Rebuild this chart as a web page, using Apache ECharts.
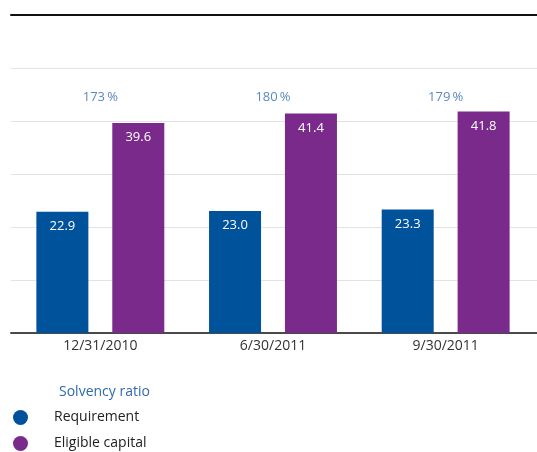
<!DOCTYPE html>
<html>
<head>
<meta charset="utf-8">
<script src="https://cdn.jsdelivr.net/npm/echarts@6/dist/echarts.min.js"></script>
<style>html,body{margin:0;padding:0;background:#fff;}#c{width:537px;height:452px;}</style>
</head>
<body>
<div id="c"></div>
<script>
var categories = ['12/31/2010', '6/30/2011', '9/30/2011'];
var requirement = [22.9, 23.0, 23.3];
var eligibleCapital = [39.6, 41.4, 41.8];
var solvencyRatio = [173, 180, 179];

var FONT = '"Open Sans", "Noto Sans", sans-serif';
var BLUE = '#00529b';
var PURPLE = '#7a2a8a';
var RATIO_Y = 44.5;

var chart = echarts.init(document.getElementById('c'));
chart.setOption({
  animation: false,
  backgroundColor: '#fff',
  textStyle: { fontFamily: FONT },
  title: {
    text: 'Solvency ratio',
    left: 54, top: 380,
    textStyle: { color: '#2f6aad', fontSize: 14, fontWeight: 'normal', fontFamily: FONT }
  },
  legend: {
    orient: 'vertical',
    left: 13, top: 410, height: 90,
    padding: 0,
    itemGap: 11,
    itemWidth: 15, itemHeight: 15,
    icon: 'circle',
    data: ['Requirement', 'Eligible capital'],
    textStyle: { color: '#222', fontSize: 14, fontFamily: FONT, padding: [0, 0, 0, 21] }
  },
  grid: [
    { left: 11, right: 0, top: 15, bottom: 119 },
    { left: 14, right: 5, top: 15, bottom: 119 }
  ],
  xAxis: [
    { gridIndex: 0, type: 'category', data: categories, position: 'bottom',
      axisLine: { show: true, lineStyle: { color: '#4a4a4a', width: 2 } },
      axisTick: { show: false }, axisLabel: { show: false }, splitLine: { show: false } },
    { gridIndex: 0, type: 'category', data: categories, position: 'top',
      axisLine: { show: true, lineStyle: { color: '#111', width: 2 } },
      axisTick: { show: false }, axisLabel: { show: false }, splitLine: { show: false } },
    { gridIndex: 1, type: 'category', data: categories,
      axisLine: { show: false }, axisTick: { show: false },
      axisLabel: { color: '#333', fontSize: 14, fontFamily: FONT, margin: 6 } }
  ],
  yAxis: [
    { gridIndex: 0, type: 'value', min: 0, max: 60, interval: 10,
      axisLine: { show: false }, axisTick: { show: false }, axisLabel: { show: false },
      splitLine: { show: true, lineStyle: { color: '#e2e2e2', width: 1 } } },
    { gridIndex: 1, type: 'value', min: 0, max: 60, interval: 10,
      axisLine: { show: false }, axisTick: { show: false }, axisLabel: { show: false },
      splitLine: { show: false } }
  ],
  series: [
    { name: 'Requirement', type: 'bar', xAxisIndex: 2, yAxisIndex: 1,
      data: requirement, barWidth: 52, barGap: '46%',
      itemStyle: { color: BLUE },
      label: { show: true, position: 'insideTop', distance: 8, color: '#fff', fontSize: 13, fontFamily: FONT,
        formatter: function (p) { return p.value.toFixed(1); } } },
    { name: 'Eligible capital', type: 'bar', xAxisIndex: 2, yAxisIndex: 1,
      data: eligibleCapital, barWidth: 52, barGap: '46%',
      itemStyle: { color: PURPLE },
      label: { show: true, position: 'insideTop', distance: 8, color: '#fff', fontSize: 13, fontFamily: FONT,
        formatter: function (p) { return p.value.toFixed(1); } } },
    { name: 'ratio', type: 'scatter', xAxisIndex: 2, yAxisIndex: 1,
      symbolSize: 0, silent: true,
      data: solvencyRatio.map(function (v, i) { return [i, RATIO_Y]; }),
      label: { show: true, position: 'inside', color: '#2f6aad', fontSize: 13, fontFamily: FONT,
        formatter: function (p) { return solvencyRatio[p.dataIndex] + '\u2009%'; } } }
  ]
});
</script>
</body>
</html>
